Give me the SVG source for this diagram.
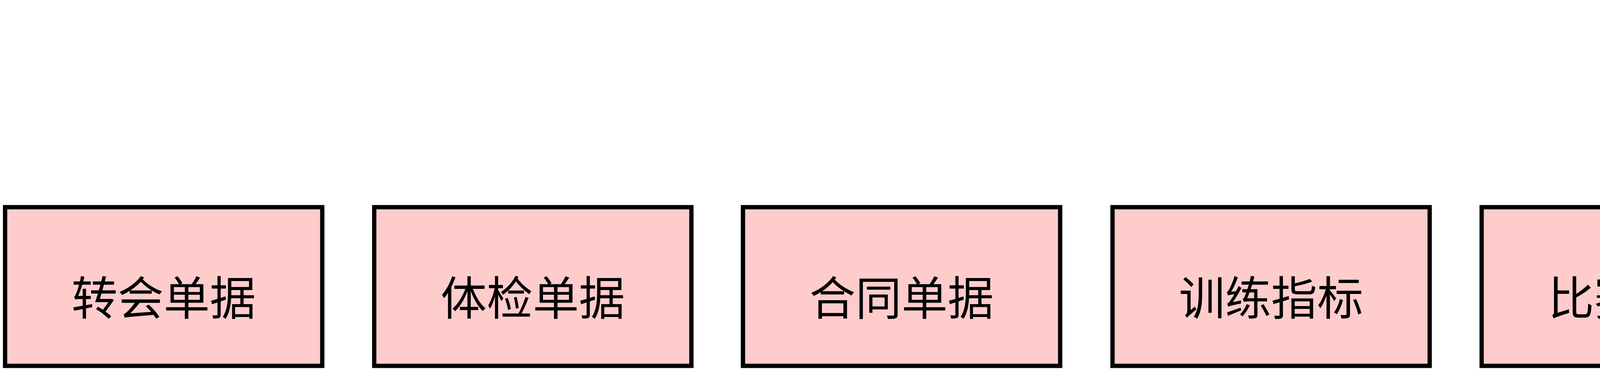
<svg xmlns="http://www.w3.org/2000/svg" width="5630" height="944" viewBox="0 0 5630 944">
<style>
.n{fill:#ffcccc;stroke:#000;stroke-width:11}
.t{font-family:"Noto Sans CJK SC","Liberation Sans",sans-serif;font-size:118px;fill:#000;text-anchor:middle;dominant-baseline:central}
.h{font-family:"Noto Sans CJK SC","Liberation Sans",sans-serif;font-size:112px;fill:#000;text-anchor:end}
</style>
<rect width="5630" height="944" fill="#fff"/>
<text class="h" x="5585" y="222">今日头条号「JAVA前线」</text>
<g id="connectors"/>
<g id="n1"><rect class="n" x="13" y="530" width="812" height="406"/><text class="t" x="419" y="754">转会单据</text></g>
<g id="n2"><rect class="n" x="958" y="530" width="812" height="406"/><text class="t" x="1364" y="754">体检单据</text></g>
<g id="n3"><rect class="n" x="1902" y="530" width="812" height="406"/><text class="t" x="2308" y="754">合同单据</text></g>
<g id="n4"><rect class="n" x="2848" y="530" width="812" height="406"/><text class="t" x="3254" y="754">训练指标</text></g>
<g id="n5"><rect class="n" x="3793" y="530" width="812" height="406"/><text class="t" x="4199" y="754">比赛指标</text></g>
<g id="n6"><rect class="n" x="4737" y="530" width="812" height="406"/><text class="t" x="5143" y="754">采访单据</text></g>
</svg>
